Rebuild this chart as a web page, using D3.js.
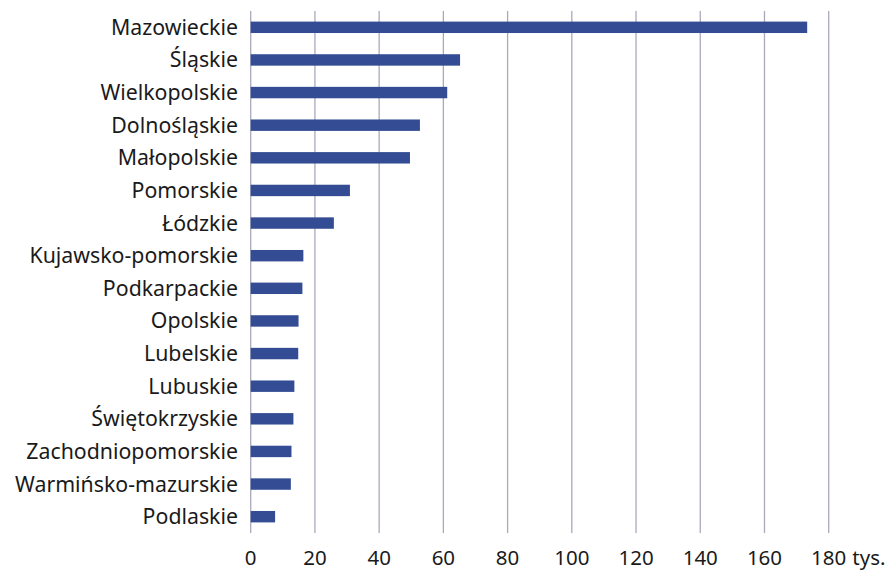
<!DOCTYPE html>
<html><head><meta charset="utf-8">
<script src="https://cdn.jsdelivr.net/npm/d3@7"></script>
<style>body{margin:0;background:#fff}svg{display:block}</style>
</head><body>
<svg id="c" width="895" height="570"></svg>
<script>
const categories = ["Mazowieckie","Śląskie","Wielkopolskie","Dolnośląskie","Małopolskie","Pomorskie","Łódzkie","Kujawsko-pomorskie","Podkarpackie","Opolskie","Lubelskie","Lubuskie","Świętokrzyskie","Zachodniopomorskie","Warmińsko-mazurskie","Podlaskie"];
const values = [173.3,65.2,61.2,52.7,49.6,30.9,25.9,16.4,16.1,14.9,14.8,13.6,13.3,12.7,12.5,7.6];
const ticks = [0,20,40,60,80,100,120,140,160,180];
const unitLabel = "tys.";

const svg = d3.select("#c");
const font = "'Noto Sans', sans-serif";
const x = d3.scaleLinear().domain([0,180]).range([250.7,828.7]);
const y = d3.scaleBand().domain(categories).range([11,533]).paddingInner(0.65).paddingOuter(0.325);

// gridlines
svg.append("g").selectAll("line").data(ticks).join("line")
  .attr("x1",d=>x(d)).attr("x2",d=>x(d)).attr("y1",11).attr("y2",533)
  .attr("stroke","#a9a9bd").attr("stroke-width",1.3);

// bars
svg.append("g").selectAll("rect").data(categories).join("rect")
  .attr("x",x(0)).attr("y",(d)=>y(d))
  .attr("width",(d,i)=>x(values[i])-x(0)).attr("height",y.bandwidth())
  .attr("fill","#344c93");

// category labels
svg.append("g").selectAll("text").data(categories).join("text")
  .attr("x",238).attr("y",d=>y(d)+y.bandwidth()/2).attr("dy","0.35em")
  .attr("text-anchor","end").attr("font-family",font).attr("font-size",21.3)
  .attr("fill","#1a1a1a").text(d=>d);

// x tick labels
const fs = 20.5;
const xt = svg.append("g");
xt.selectAll("text").data(ticks).join("text")
  .attr("x",d=>x(d)).attr("y",564.5)
  .attr("text-anchor","middle").attr("font-family",font).attr("font-size",fs)
  .attr("fill","#1a1a1a").text(d=>d);
const last = xt.selectAll("text").filter(d=>d===180).node();
const w = last.getComputedTextLength();
xt.append("text").attr("x",x(180)+w/2+6).attr("y",564.5)
  .attr("font-family",font).attr("font-size",fs).attr("fill","#1a1a1a").text(unitLabel);
</script>
</body></html>
